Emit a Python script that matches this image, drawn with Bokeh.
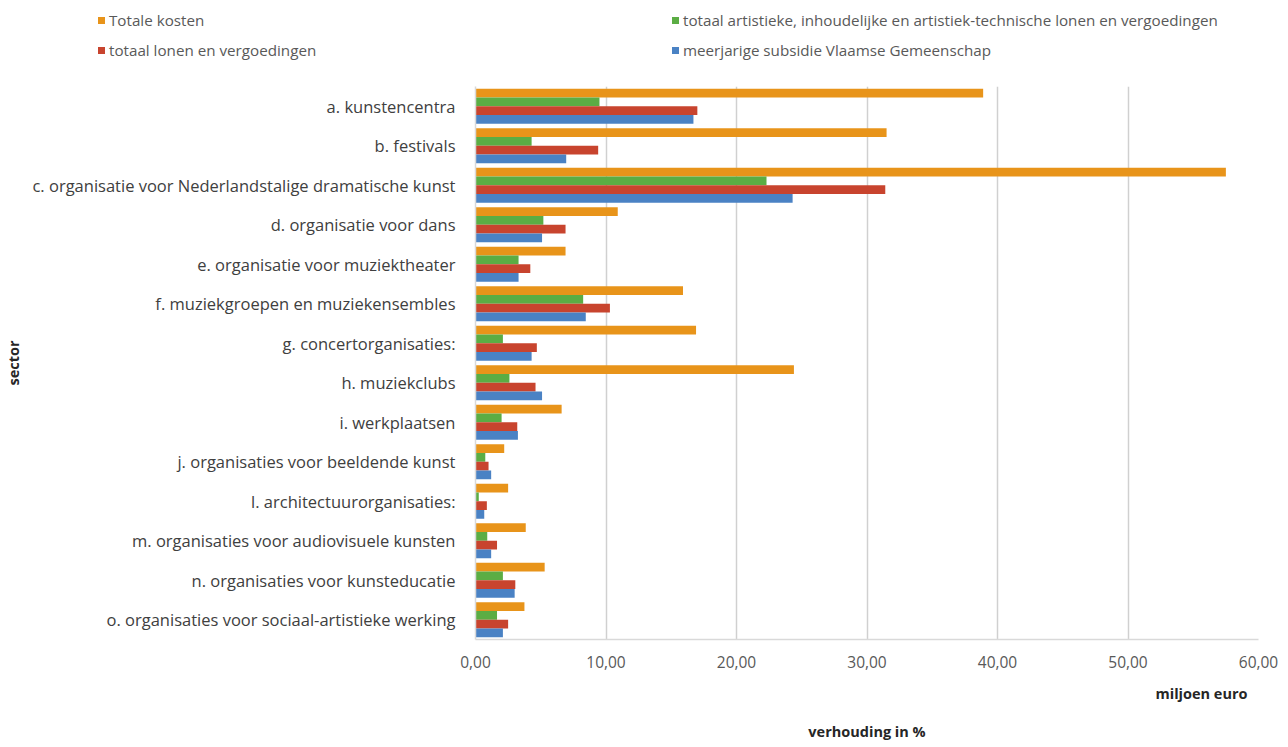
from bokeh.plotting import figure
from bokeh.layouts import column
from bokeh.models import (FactorRange, CustomJSTickFormatter, FixedTicker,
                          ColumnDataSource, Title, Div)
from bokeh.transform import dodge
from bokeh.embed import file_html
from bokeh.resources import INLINE

categories = [
    "a. kunstencentra",
    "b. festivals",
    "c. organisatie voor Nederlandstalige dramatische kunst",
    "d. organisatie voor dans",
    "e. organisatie voor muziektheater",
    "f. muziekgroepen en muziekensembles",
    "g. concertorganisaties:",
    "h. muziekclubs",
    "i. werkplaatsen",
    "j. organisaties voor beeldende kunst",
    "l. architectuurorganisaties:",
    "m. organisaties voor audiovisuele kunsten",
    "n. organisaties voor kunsteducatie",
    "o. organisaties voor sociaal-artistieke werking",
]

totale_kosten = [38.9, 31.5, 57.5, 10.9, 6.9, 15.9, 16.9, 24.4, 6.6, 2.2, 2.5, 3.85, 5.3, 3.75]
artistieke_lonen = [9.5, 4.3, 22.3, 5.2, 3.3, 8.25, 2.1, 2.6, 2.0, 0.75, 0.25, 0.9, 2.1, 1.65]
totaal_lonen = [17.0, 9.4, 31.4, 6.9, 4.2, 10.3, 4.7, 4.6, 3.2, 1.0, 0.87, 1.65, 3.05, 2.5]
subsidie = [16.7, 6.95, 24.3, 5.1, 3.3, 8.45, 4.3, 5.1, 3.25, 1.2, 0.67, 1.2, 3.0, 2.1]

series_names = [
    "Totale kosten",
    "totaal artistieke, inhoudelijke en artistiek-technische lonen en vergoedingen",
    "totaal lonen en vergoedingen",
    "meerjarige subsidie Vlaamse Gemeenschap",
]
x_ticks = [0, 10, 20, 30, 40, 50, 60]

colors = ["#E8941A", "#5BAD44", "#C8442E", "#4A82C4"]
offsets = [0.33, 0.11, -0.11, -0.33]

src = ColumnDataSource(dict(cat=categories, s0=totale_kosten, s1=artistieke_lonen,
                            s2=totaal_lonen, s3=subsidie))

W = 1284
TOP_H = 80
H = 746 - TOP_H
FL, FR, FT, FB = 475, 1258, 86 - TOP_H, 641 - TOP_H  # frame edges within main figure

# ---------------- legend (HTML strip above the chart) ----------------
legend_pos = [(98, 20), (672, 20), (98, 50), (672, 50)]
parts = []
for name, col, (lx, ly) in zip(series_names, colors, legend_pos):
    parts.append(
        f'<span style="position:absolute;left:{lx}px;top:{ly - 3.5}px;width:7px;height:7px;'
        f'background:{col};"></span>'
        f'<span style="position:absolute;left:{lx + 11}px;top:{ly - 11}px;line-height:22px;'
        f'white-space:nowrap;">{name}</span>')
legend_html = (f'<div style="position:relative;width:{W}px;height:{TOP_H}px;'
               f'font-family:\'Open Sans\';font-size:15.2px;color:#595959;">'
               + "".join(parts) + "</div>")
legend_div = Div(text=legend_html, width=W, height=TOP_H, margin=0)

# ---------------- main chart ----------------
p = figure(width=W, height=H, output_backend="svg", toolbar_location=None,
           y_range=FactorRange(factors=list(reversed(categories)), range_padding=0),
           x_range=(0, 60),
           min_border_left=FL, min_border_right=W - FR,
           min_border_top=FT, min_border_bottom=H - FB)
p.outline_line_color = None

for i, col in enumerate(["s0", "s1", "s2", "s3"]):
    p.hbar(y=dodge("cat", offsets[i], range=p.y_range), left=0, right=col,
           height=0.22, source=src, fill_color=colors[i], line_color=None)

# x axis
p.xaxis.ticker = FixedTicker(ticks=x_ticks)
p.xaxis.formatter = CustomJSTickFormatter(code="return tick.toFixed(2).replace('.', ',');")
p.xaxis.major_label_text_font = "Open Sans"
p.xaxis.major_label_text_font_size = "15.5px"
p.xaxis.major_label_text_color = "#595959"
p.xaxis.axis_line_color = "#D9D9D9"
p.xaxis.axis_line_width = 1.5
p.xaxis.major_tick_line_color = None
p.xaxis.minor_tick_line_color = None
p.xaxis.major_label_standoff = 10

# y axis
p.yaxis.major_label_text_font = "Open Sans"
p.yaxis.major_label_text_font_size = "16.5px"
p.yaxis.major_label_text_color = "#404040"
p.yaxis.axis_line_color = "#D9D9D9"
p.yaxis.axis_line_width = 1.5
p.yaxis.major_tick_line_color = None
p.yaxis.minor_tick_line_color = None
p.yaxis.major_label_standoff = 14
p.yaxis.axis_label = "sector"
p.yaxis.axis_label_text_font = "Open Sans"
p.yaxis.axis_label_text_font_style = "bold"
p.yaxis.axis_label_text_font_size = "14.5px"
p.yaxis.axis_label_text_color = "#262626"
p.yaxis.axis_label_standoff = 6

p.ygrid.grid_line_color = None
p.xgrid.grid_line_color = "#D0D0D0"
p.xgrid.grid_line_width = 1.5

# bottom titles
t1 = Title(text="miljoen euro", align="right", offset=11, standoff=22,
           text_font="Open Sans", text_font_style="bold", text_font_size="14.5px",
           text_color="#262626")
t2 = Title(text="verhouding in %", align="center", standoff=12,
           text_font="Open Sans", text_font_style="bold", text_font_size="14.5px",
           text_color="#262626")
p.add_layout(t1, "below")
p.add_layout(t2, "below")

layout = column(legend_div, p, spacing=0)
open("out.html", "w").write(file_html(layout, INLINE))
